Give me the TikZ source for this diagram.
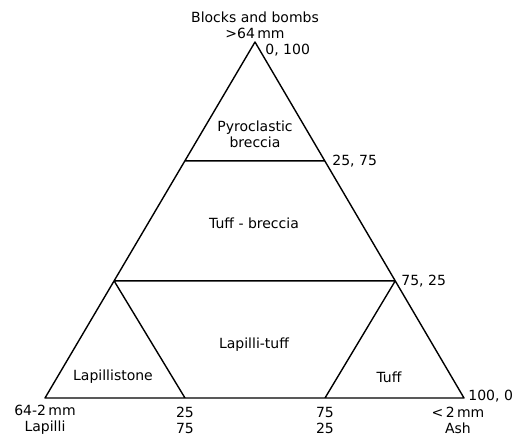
\documentclass[tikz,border=0pt]{standalone}
\usepackage{fontspec}
\setmainfont{DejaVu Sans}
\usetikzlibrary{calc}
\begin{document}
\begin{tikzpicture}[x=0.5pt, y=-0.5pt, font=\fontsize{7}{8}\selectfont, line join=round, line cap=round,
	edge/.style={line width=.7pt}, txt/.style={inner sep=0pt, align=center}]
	\useasboundingbox (0,0) rectangle (515,434);
	\path
	(255,42) coordinate (A)
	(45,398) coordinate (L)
	(464,398) coordinate (R)
	($(A)!.334!(L)$) coordinate (P1)
	($(A)!.334!(R)$) coordinate (P2)
	($(A)!.671!(L)$) coordinate (T1)
	($(A)!.671!(R)$) coordinate (T2)
	(185,398) coordinate (B1)
	(325,398) coordinate (B2)
	;
	\draw[edge] (A)--(L)--(R)--cycle
	(P1)--(P2)
	(T1)--(T2)
	(T1)--(B1)
	(T2)--(B2)
	;
	% end members
	\node[txt] (blocks) at (255,25) {Blocks and bombs\\>64\,mm};
	\node[txt] (lapilli) at (45,420) {64-2\,mm\\Lapilli};
	\node[txt] (ash) at (458,420) {<\,2\,mm\\Ash};
	% values on the sides
	\node[txt, anchor=west] (v0) at (265,50) {0, 100};
	\node[txt, anchor=west] (v1) at (332,161) {25, 75};
	\node[txt, anchor=west] (v2) at (401,281) {75, 25};
	\node[txt, anchor=west] (v3) at (468,396) {100, 0};
	\node[txt] (b1) at (185,420) {25\\75};
	\node[txt] (b2) at (325,420) {75\\25};
	% fields
	\node[txt] (pyro) at (255,134) {Pyroclastic\\breccia};
	\node[txt] (tb) at (254,223) {Tuff - breccia};
	\node[txt] (lt) at (254,345) {Lapilli-tuff};
	\node[txt] (ls) at (113,377) {Lapillistone};
	\node[txt] (tuff) at (389,377) {Tuff};
\end{tikzpicture}
\end{document}
